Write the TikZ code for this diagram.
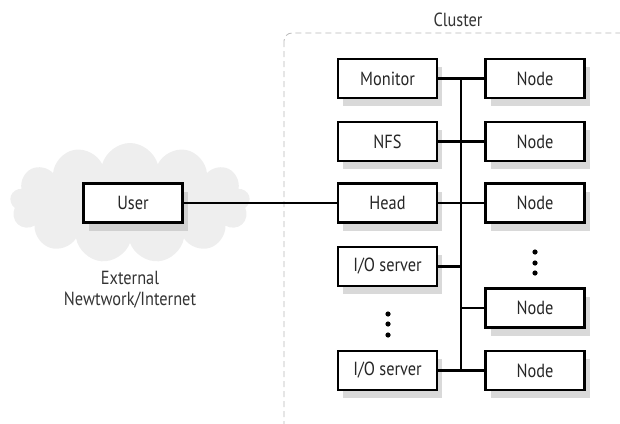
\documentclass[tikz,border=0pt]{standalone}
\usepackage{fontspec}
\setmainfont{PT Sans}[FakeStretch=0.86]
\usepackage{tikz}
\usetikzlibrary{shapes,shadows}
\tikzset{box/.style={draw, line width=2.6pt, fill=white, minimum width=99pt, minimum height=39pt,
  font=\fontsize{19}{22}\selectfont, text=black!85,
  drop shadow={shadow xshift=5pt, shadow yshift=-8pt, fill=gray!55, opacity=0.55}},
  lbl/.style={font=\fontsize{19}{21}\selectfont, text=black!80},
  wire/.style={line width=2.2pt}}

\begin{document}
\begin{tikzpicture}[x=1pt,y=-1pt]
\useasboundingbox (0,0) rectangle (620,423);

% cloud and cluster frame
\node[cloud, cloud puffs=13, aspect=2.1, fill=gray!13, draw=none, minimum width=240pt, minimum height=120pt] (net) at (130,203) {};
\begin{scope}
\clip (0,0) rectangle (620,423);
\draw[gray!55, line width=0.8pt, dash pattern=on 6pt off 4pt, rounded corners=8pt] (284,33) rectangle (650,440);
\end{scope}
\node[lbl] (clu) at (458,20) {Cluster};
\node[lbl, align=center] (ext) at (130,290) {External\\Newtwork/Internet};

\node[box] (user) at (133,203) {User};

\node[box] (mon) at (387.5,78.5) {Monitor};
\node[box] (nfs) at (387.5,141.5) {NFS};
\node[box] (head) at (387.5,203) {Head};
\node[box] (ioa) at (387.5,266.5) {I/O server};
\node[box] (iob) at (387.5,370.5) {I/O server};

\node[box] (n1) at (535,78.5) {Node};
\node[box] (n2) at (535,141.5) {Node};
\node[box] (n3) at (535,203) {Node};
\node[box] (n4) at (535,308) {Node};
\node[box] (n5) at (535,370.5) {Node};

% bus
\coordinate (bt) at (461,78.5);
\coordinate (bb) at (461,370.5);
\draw[wire] (bt) -- (bb);

\draw[wire] (user) -- (head);
\draw[wire] (mon) -- (n1);
\draw[wire] (nfs) -- (n2);
\draw[wire] (head) -- (n3);
\draw[wire] (ioa.east) -- (ioa.east -| bt);
\draw[wire] (n4.west) -- (n4.west -| bt);
\draw[wire] (iob) -- (n5);

\foreach \y in {252,263,273}
{
\fill (535,\y) circle (2.6pt);
}
\foreach \y in {314,324,335}
{
\fill (388,\y) circle (2.6pt);
}
\end{tikzpicture}
\end{document}
